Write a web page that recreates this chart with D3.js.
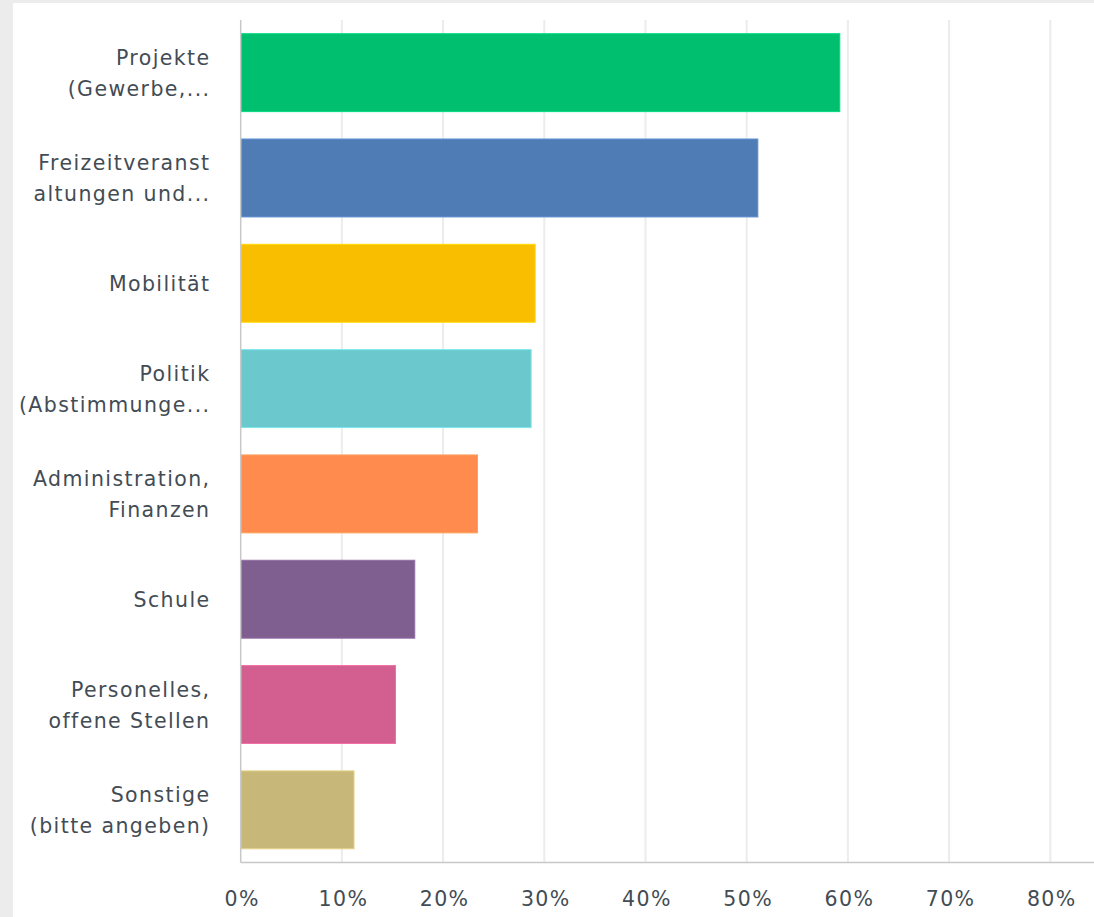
<!DOCTYPE html>
<html>
<head>
<meta charset="utf-8">
<script src="https://cdn.jsdelivr.net/npm/d3@7"></script>
<style>
  html, body { margin: 0; padding: 0; background: #ececec; }
  svg { display: block; }
</style>
</head>
<body>
<svg width="1094" height="917"></svg>
<script>
// answer categories (already wrapped / truncated as in the survey tool)
const categories = [
  ["Projekte", "(Gewerbe,..."],
  ["Freizeitveranst", "altungen und..."],
  ["Mobilität"],
  ["Politik", "(Abstimmunge..."],
  ["Administration,", "Finanzen"],
  ["Schule"],
  ["Personelles,", "offene Stellen"],
  ["Sonstige", "(bitte angeben)"]
];
const values = [59.2, 51.1, 29.1, 28.7, 23.4, 17.2, 15.3, 11.2];
const colors = ["#00bf6f", "#507cb6", "#f9be00", "#6bc8cd", "#ff8b4f", "#7f5f90", "#d25f90", "#c7b879"];
const ticks = [0, 10, 20, 30, 40, 50, 60, 70, 80];

let width = 1094,
  height = 917,
  plotLeft = 240.7,
  plotTop = 20,
  plotBottom = 862.5,
  font = "'DejaVu Sans', sans-serif",
  textColor = "#434c54";

let svg = d3.select("svg");

// white panel with the grey frame on the left/top
svg.append("rect")
  .attr("x", 13).attr("y", 3)
  .attr("width", width - 13).attr("height", height - 3)
  .attr("fill", "#fff");

let x = d3.scaleLinear().domain([0, 80]).range([plotLeft, plotLeft + 809.6]);
let y = d3.scaleBand()
  .domain(d3.range(categories.length))
  .range([plotTop, plotBottom])
  .paddingInner(0.26)
  .paddingOuter(0.13);

// gridlines
svg.append("g")
  .selectAll("line")
  .data(ticks.slice(1))
  .join("line")
  .attr("x1", d => x(d)).attr("x2", d => x(d))
  .attr("y1", plotTop).attr("y2", plotBottom)
  .attr("stroke", "#ececec")
  .attr("stroke-width", 2);

// bars
svg.append("g")
  .selectAll("rect")
  .data(values)
  .join("rect")
  .attr("x", x(0))
  .attr("y", (d, i) => y(i))
  .attr("width", d => x(d) - x(0))
  .attr("height", y.bandwidth())
  .attr("fill", (d, i) => colors[i])
  .attr("stroke", (d, i) => d3.color(colors[i]).brighter(0.4))
  .attr("stroke-width", 1);

// axis lines
svg.append("line")
  .attr("x1", plotLeft).attr("x2", plotLeft)
  .attr("y1", plotTop).attr("y2", plotBottom)
  .attr("stroke", "#c8c8c8").attr("stroke-width", 1.5);
svg.append("line")
  .attr("x1", plotLeft).attr("x2", width)
  .attr("y1", plotBottom).attr("y2", plotBottom)
  .attr("stroke", "#c8c8c8").attr("stroke-width", 1.5);

// x tick labels
svg.append("g")
  .selectAll("text")
  .data(ticks)
  .join("text")
  .attr("x", d => x(d) + 1.5)
  .attr("y", 905.5)
  .attr("text-anchor", "middle")
  .attr("font-family", font)
  .attr("font-size", 20.5)
  .attr("letter-spacing", 1.4)
  .attr("fill", textColor)
  .text(d => d + "%");

// category labels
let lineH = 31;
let labels = svg.append("g")
  .selectAll("text")
  .data(categories)
  .join("text")
  .attr("text-anchor", "end")
  .attr("font-family", font)
  .attr("font-size", 20.5)
  .attr("letter-spacing", 1.4)
  .attr("fill", textColor);

labels.each(function (lines, i) {
  let cy = y(i) + y.bandwidth() / 2;
  let first = cy + 8 - ((lines.length - 1) * lineH) / 2;
  d3.select(this)
    .selectAll("tspan")
    .data(lines)
    .join("tspan")
    .attr("x", 210.5)
    .attr("y", (d, k) => first + k * lineH)
    .text(d => d);
});
</script>
</body>
</html>
